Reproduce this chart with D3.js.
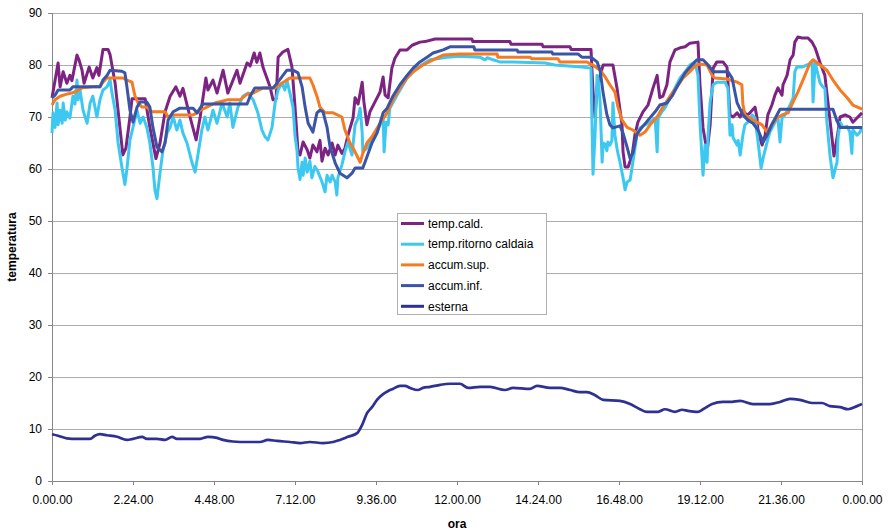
<!DOCTYPE html>
<html>
<head>
<meta charset="utf-8">
<script src="https://cdn.jsdelivr.net/npm/d3@7"></script>
<style>
  body { margin: 0; background: #fff; }
  svg { font-family: "Liberation Sans", Arial, sans-serif; }
</style>
</head>
<body>
<div id="chart-area"></div>
<script>
// [ora (hours), temperatura]
const tempCald = [
  [0,73.7],[0.09,77],[0.18,80.4],[0.24,75.8],[0.33,78.7],[0.44,76.5],[0.53,78],[0.59,77],[0.74,81.9],[0.80,81],
  [0.89,79],[0.95,76.5],[1.10,79.6],[1.21,77.5],[1.33,79.5],[1.39,78],[1.51,83],[1.66,83],[1.72,82],[1.87,76.5],
  [2.10,62.7],[2.19,64],[2.31,70],[2.37,73.5],[2.76,73.5],[2.90,68],[3.08,62],[3.20,65],[3.35,71],[3.50,74],
  [3.67,75.8],[3.79,74],[3.88,75.5],[4.09,70],[4.27,65.6],[4.39,70],[4.56,77.5],[4.62,75.2],[4.77,77.1],[4.89,74.6],
  [5.07,79],[5.21,74.6],[5.48,79],[5.57,76.5],[5.78,80.4],[5.87,79.8],[5.99,82.3],[6.07,80.5],[6.16,82.3],[6.25,79.6],
  [6.46,75.8],[6.55,73.3],[6.64,73.5],[6.70,81.5],[6.84,82.5],[6.99,83],[7.11,79.6],[7.20,72],[7.29,63.3],[7.35,62.7],
  [7.44,65.2],[7.56,63.7],[7.64,62.1],[7.73,64.6],[7.85,63.3],[7.94,65.5],[8.00,61.5],[8.09,64],[8.18,62.7],[8.30,65],
  [8.39,62.7],[8.47,64.6],[8.59,63],[8.68,64],[8.77,66.5],[8.92,69.8],[8.98,73.7],[9.07,72.5],[9.19,76.7],[9.24,73],
  [9.33,68.5],[9.42,71],[9.57,72.9],[9.72,74.8],[9.81,77.7],[9.87,74.2],[9.96,73.7],[10.07,79.4],[10.16,81.3],[10.31,82.9],
  [10.52,82.9],[10.67,83.8],[10.90,84.4],[11.05,84.5],[11.35,85],[12.44,85],[12.47,84.5],[13.57,84.5],[13.60,84],[14.52,84],
  [14.55,83.5],[15.35,83.5],[15.38,83],[15.97,83],[16.03,75],[16.09,70],[16.15,76],[16.33,80],[16.62,80],[16.74,75.6],
  [16.89,68.5],[16.92,63.3],[16.98,60.4],[17.07,60.4],[17.19,62.7],[17.27,66.5],[17.36,69],[17.51,71],[17.66,72.3],[17.81,75.6],
  [17.93,78],[17.96,76.2],[18.01,73.7],[18.10,74],[18.22,76.2],[18.31,80.6],[18.46,82.9],[18.61,83.3],[18.76,83.5],[18.90,84.2],
  [19.14,84.4],[19.20,76.2],[19.29,67.9],[19.41,63.3],[19.50,68.5],[19.59,79.4],[19.70,80.6],[19.88,80.6],[20.00,79.6],[20.09,70.4],
  [20.18,70],[20.30,70.8],[20.39,70],[20.47,71.3],[20.59,70.3],[20.68,70.8],[20.83,71.9],[20.89,69.8],[20.92,67.1],[21.04,64.6],
  [21.13,66.5],[21.21,70.4],[21.33,72.3],[21.42,74.2],[21.51,75.6],[21.63,74.2],[21.66,76.2],[21.78,78],[21.87,81],[21.96,81.9],
  [22.01,84.4],[22.10,85.4],[22.22,85.2],[22.40,85.2],[22.52,84.4],[22.61,83.3],[22.76,80.4],[22.90,78],[22.99,72.9],[23.11,66],
  [23.17,62.5],[23.29,67.1],[23.35,70],[23.50,70.4],[23.64,70],[23.73,69],[23.85,69.8],[24,70.8]
]

const tempRitorno = [
  [0,66.9],[0.03,70.8],[0.09,68],[0.15,72.7],[0.18,68.5],[0.24,71.3],[0.30,68.8],[0.33,72.7],[0.39,69.4],[0.44,71],
  [0.53,69.8],[0.62,74],[0.68,72.5],[0.74,77.1],[0.77,73.3],[0.83,75.2],[0.92,71.3],[1.04,68.8],[1.13,72.7],[1.21,74],
  [1.33,70],[1.42,73.3],[1.51,75.2],[1.63,75.8],[1.72,77.1],[1.78,74.5],[1.87,71.3],[1.96,65],[2.07,60.4],[2.16,57],
  [2.22,60],[2.31,65.6],[2.40,68],[2.52,71.3],[2.61,68.8],[2.70,70],[2.81,68],[2.90,65],[2.99,60.4],[3.05,56],
  [3.11,54.3],[3.20,59.2],[3.29,63.7],[3.41,66.9],[3.50,68],[3.59,70],[3.70,67.5],[3.79,69.4],[3.88,66.9],[4.00,65],
  [4.15,61.2],[4.24,59.4],[4.33,63],[4.44,67.5],[4.53,70],[4.62,67.5],[4.77,71.3],[4.89,68.8],[5.04,72.7],[5.19,70],
  [5.27,72.7],[5.36,68],[5.51,71.9],[5.66,74],[5.81,74.6],[5.96,73.3],[6.10,70.8],[6.22,67.5],[6.31,66.2],[6.40,65.6],
  [6.52,68],[6.61,72.7],[6.70,75.2],[6.81,76.5],[6.90,75.2],[6.96,77.1],[7.05,74.6],[7.14,71.9],[7.20,66.5],[7.26,63.5],
  [7.29,60.2],[7.35,58],[7.41,61.3],[7.44,58.8],[7.50,62.1],[7.56,59.4],[7.64,61.5],[7.70,58.3],[7.79,60.5],[7.88,59.5],
  [8.00,57.5],[8.09,55.6],[8.15,58.8],[8.24,57.5],[8.30,58.8],[8.39,57.5],[8.44,55],[8.47,58.3],[8.59,60.8],[8.68,63.3],
  [8.77,65.2],[8.89,62.7],[8.98,68.5],[9.07,69.8],[9.13,71.7],[9.19,67.1],[9.21,63.3],[9.33,64],[9.48,66],[9.63,67.1],
  [9.72,68.5],[9.81,70.4],[9.84,63.3],[9.90,69],[9.96,68.5],[10.01,71.7],[10.22,74.2],[10.52,77.5],[10.81,79.4],[11.20,81],
  [11.70,81.5],[12.09,81.7],[12.68,81.5],[12.83,81],[12.90,81.4],[13.07,81],[13.27,80.6],[13.66,80.6],[14.61,80.4],[14.90,80],
  [15.70,79.6],[15.97,79.4],[16.00,69],[16.03,59],[16.09,66.5],[16.15,78],[16.18,77.5],[16.24,72.9],[16.30,61.3],[16.33,65],
  [16.39,64.8],[16.44,63.5],[16.47,65.2],[16.53,64.6],[16.59,65.5],[16.62,72.7],[16.68,66.5],[16.74,64],[16.77,63],[16.83,61.3],
  [16.92,58.3],[16.98,56],[17.04,57.5],[17.13,57.9],[17.21,61.3],[17.33,66.5],[17.42,67.9],[17.57,68.5],[17.72,69],[17.87,69.8],
  [17.93,63.3],[17.96,69.8],[18.07,71],[18.16,71.7],[18.31,73.7],[18.46,75.6],[18.61,77.5],[18.76,78.7],[18.90,80],[19.05,80.6],
  [19.14,78],[19.20,69],[19.26,62.1],[19.29,58.8],[19.35,64.6],[19.41,61.3],[19.44,66.5],[19.50,72.9],[19.59,76.2],[19.70,76.7],
  [19.94,76.7],[20.03,75.5],[20.09,66.5],[20.15,68.5],[20.18,66],[20.30,64.6],[20.33,65.5],[20.39,62.7],[20.47,66.5],[20.53,68.5],
  [20.62,69],[20.74,70.4],[20.83,69.8],[20.92,65.2],[21.01,60.2],[21.07,62.1],[21.19,65.2],[21.27,67.1],[21.42,69],[21.51,69.8],
  [21.57,65.2],[21.63,69.8],[21.72,70.4],[21.87,72.3],[21.96,73.7],[22.01,78.7],[22.07,79.6],[22.22,79.6],[22.37,80],[22.52,80.4],
  [22.55,72.9],[22.61,80.4],[22.76,76.5],[22.84,75.8],[22.90,75.5],[22.96,69],[23.05,62.7],[23.14,58.3],[23.26,61.3],[23.29,66],
  [23.35,69],[23.44,68],[23.56,68.2],[23.64,67.1],[23.70,63],[23.73,67.5],[23.85,66.5],[23.94,67.1],[24,68]
]

const accumSup = [
  [0,72.3],[0.09,73.3],[0.24,74],[0.44,74.4],[0.59,74.6],[0.74,75],[0.89,75.6],[1.21,75.8],[1.42,75.8],[1.51,76.7],
  [1.63,77.5],[2.10,77.5],[2.22,77.1],[2.37,76.7],[2.46,74],[2.55,72.7],[2.67,71.9],[2.81,71.9],[2.96,71],[3.35,71],
  [3.44,70],[3.56,70.4],[4.18,70.4],[4.30,70.8],[4.39,71.3],[4.59,71.9],[4.83,72.7],[5.19,73.3],[5.57,73.3],[5.78,74.4],
  [5.96,74.6],[6.25,75.6],[6.61,75.6],[6.81,76.5],[6.96,77.1],[7.05,77.5],[7.64,77.5],[7.73,76.2],[7.85,74],[7.94,71.9],
  [8.09,70.8],[8.33,70.8],[8.59,70],[8.68,67.5],[8.83,65],[8.98,63.3],[9.13,61.3],[9.21,63],[9.33,65],[9.48,66.2],
  [9.72,68.8],[9.93,70.8],[10.10,73.3],[10.31,75.6],[10.52,77.5],[10.70,78.7],[10.99,80],[11.29,81],[11.59,81.9],[12.09,82.1],
  [13.19,82.1],[13.21,81.5],[14.16,81.5],[14.22,81.2],[14.99,81.2],[15.05,80.6],[15.85,80.6],[15.94,80.2],[16.03,80],[16.24,79],
  [16.39,77.7],[16.53,76.2],[16.68,74.8],[16.77,71.9],[16.89,69.4],[17.04,68],[17.21,67.5],[17.42,66.5],[17.57,67.1],[17.72,68.5],
  [17.93,70],[18.10,71.9],[18.31,74],[18.52,75.8],[18.70,77.5],[18.90,78.7],[19.05,79.8],[19.20,80.2],[19.41,80],[19.56,78],
  [19.64,77.5],[20.00,77.3],[20.30,76.7],[20.44,76.2],[20.47,72.5],[20.53,70.4],[20.68,69.8],[20.89,69],[21.04,68.5],[21.19,67.1],
  [21.33,68.5],[21.48,69.8],[21.63,70.4],[21.81,70.8],[21.96,72.9],[22.10,74.8],[22.31,78],[22.46,80.4],[22.55,81],[22.76,80],
  [22.96,79],[23.14,77.1],[23.35,75.2],[23.56,73.7],[23.73,72.3],[24,71.5]
]

const accumInf = [
  [0,73.7],[0.09,74.2],[0.18,75.2],[0.53,75.2],[0.62,75.8],[1.42,75.8],[1.51,77.1],[1.63,78],[1.72,79],[2.07,78.8],
  [2.16,78.5],[2.22,75.8],[2.31,71.3],[2.40,69],[2.52,71.9],[2.61,72.9],[2.81,72.9],[2.90,71.9],[2.99,68],[3.11,64.2],
  [3.26,63.3],[3.35,65],[3.44,69.4],[3.59,71],[3.79,71.7],[4.18,71.7],[4.30,70.8],[4.39,71.7],[4.47,72.5],[5.78,72.5],
  [5.87,74],[6.01,75.6],[6.55,75.6],[6.67,76.5],[6.81,77.7],[6.96,79],[7.14,79],[7.29,78.5],[7.41,75.8],[7.50,71.9],
  [7.59,68.8],[7.73,67.1],[7.85,70.8],[7.94,71.3],[8.03,71],[8.15,68],[8.24,64.2],[8.39,61.2],[8.53,59.2],[8.74,58.3],
  [8.89,59.2],[8.98,60.2],[9.21,60.2],[9.33,62.3],[9.48,65],[9.63,66.9],[9.81,70.8],[9.93,71.7],[10.10,74],[10.31,76.2],
  [10.52,78],[10.70,79.4],[10.90,80.6],[11.11,81.5],[11.29,82.3],[11.59,82.9],[11.79,83.5],[12.50,83.5],[12.53,82.9],[13.78,82.9],
  [13.81,82.5],[14.81,82.5],[14.84,82.1],[15.59,82.1],[15.70,81.5],[15.97,81.5],[16.15,80.6],[16.24,79],[16.33,74.6],[16.44,70.5],
  [16.53,68.5],[16.62,67.9],[16.83,68.3],[16.92,66.9],[17.04,64.2],[17.13,62],[17.21,63],[17.33,66.7],[17.48,68],[17.66,69.4],
  [17.87,71],[18.01,72.3],[18.22,72.7],[18.37,74],[18.55,76.2],[18.76,78.5],[18.96,80],[19.11,81],[19.29,81],[19.44,80],
  [19.59,78.7],[20.03,78.7],[20.15,77.5],[20.30,72.7],[20.47,70.4],[20.62,69.4],[20.77,68.8],[20.92,67.5],[21.07,65.2],[21.19,66.5],
  [21.33,68.6],[21.48,70.4],[21.57,71.5],[23.14,71.5],[23.26,69.2],[23.35,68],[24,68]
]

const esterna = [
  [0,9],[0.18,8.7],[0.44,8.2],[0.74,8.1],[1.13,8.1],[1.27,8.7],[1.42,9],[1.63,8.8],[1.93,8.5],[2.22,7.9],
  [2.40,8.1],[2.67,8.5],[2.81,8.1],[3.11,8.1],[3.35,7.9],[3.56,8.5],[3.70,8.1],[4.00,8.1],[4.39,8.1],[4.62,8.5],
  [4.89,8.3],[5.07,7.9],[5.36,7.6],[5.78,7.5],[6.16,7.5],[6.40,7.9],[6.67,7.7],[7.05,7.5],[7.35,7.3],[7.64,7.5],
  [8.03,7.3],[8.33,7.5],[8.53,7.9],[8.77,8.5],[9.04,9.2],[9.19,10.8],[9.33,13],[9.48,14.2],[9.63,15.6],[9.81,16.7],
  [9.96,17.3],[10.10,17.7],[10.31,18.3],[10.46,18.3],[10.61,17.9],[10.84,17.5],[10.99,17.9],[11.20,18.1],[11.50,18.5],[11.79,18.7],
  [12.09,18.7],[12.33,17.9],[12.68,18.1],[12.98,18.1],[13.42,17.5],[13.66,17.9],[14.16,17.7],[14.37,18.3],[14.76,17.9],[15.05,17.9],
  [15.35,17.5],[15.64,17.1],[15.85,17.1],[16.09,16.5],[16.33,15.6],[16.83,15.4],[17.13,14.8],[17.42,13.8],[17.63,13.3],[17.96,13.3],
  [18.16,13.8],[18.46,13.3],[18.67,13.7],[18.84,13.5],[19.14,13.3],[19.29,13.8],[19.56,14.8],[19.88,15.2],[20.09,15.2],[20.39,15.4],
  [20.77,14.8],[21.27,14.8],[21.57,15.2],[21.87,15.8],[22.16,15.6],[22.52,15],[22.81,15],[23.05,14.4],[23.35,14.2],[23.59,13.8],
  [23.85,14.4],[24,14.8]
]

const seriesNames = ['temp.cald.', 'temp.ritorno caldaia', 'accum.sup.', 'accum.inf.', 'esterna']
const seriesColors = ['#7D2483', '#3CC8F0', '#F47B22', '#3A55A5', '#2E3192']
const seriesData = [tempCald, tempRitorno, accumSup, accumInf, esterna]

const xTicks = [0, 2.4, 4.8, 7.2, 9.6, 12, 14.4, 16.8, 19.2, 21.6, 24]
const xTickLabels = ['0.00.00', '2.24.00', '4.48.00', '7.12.00', '9.36.00', '12.00.00', '14.24.00', '16.48.00', '19.12.00', '21.36.00', '0.00.00']
const yTicks = [0, 10, 20, 30, 40, 50, 60, 70, 80, 90]

const margin = {top: 13, right: 27, bottom: 51, left: 52}
const width = 889 - margin.left - margin.right
const height = 532 - margin.top - margin.bottom

const svg = d3.select('#chart-area').append('svg')
  .attr('width', width + margin.left + margin.right)
  .attr('height', height + margin.top + margin.bottom)

const g = svg.append('g')
  .attr('transform', `translate(${margin.left},${margin.top})`)

const x = d3.scaleLinear().domain([0, 24]).range([0, width])
const y = d3.scaleLinear().domain([0, 90]).range([height, 0])

// gridlines
g.append('g').selectAll('line')
  .data(yTicks.slice(1))
  .enter().append('line')
    .attr('x1', 0).attr('x2', width)
    .attr('y1', d => y(d)).attr('y2', d => y(d))
    .attr('stroke', '#ababab')
    .attr('stroke-width', 1)
    .attr('shape-rendering', 'crispEdges')

// right border of plot area
g.append('line')
  .attr('x1', width).attr('x2', width)
  .attr('y1', 0).attr('y2', height)
  .attr('stroke', '#9a9a9a')
  .attr('shape-rendering', 'crispEdges')

const xAxisCall = d3.axisBottom(x)
  .tickValues(xTicks)
  .tickSize(4)
  .tickPadding(10)
  .tickFormat((d, i) => xTickLabels[i])
g.append('g')
  .attr('class', 'x axis')
  .attr('transform', `translate(0,${height})`)
  .call(xAxisCall)

const yAxisCall = d3.axisLeft(y)
  .tickValues(yTicks)
  .tickSize(4)
  .tickPadding(6)
g.append('g')
  .attr('class', 'y axis')
  .call(yAxisCall)

svg.selectAll('.axis path, .axis line')
  .attr('stroke', '#868686')
  .attr('shape-rendering', 'crispEdges')
svg.selectAll('.axis text')
  .attr('fill', '#000')
  .style('font-size', '12px')
  .style('font-family', '"Liberation Sans", Arial, sans-serif')

// series
const line = d3.line()
  .x(d => x(d[0]))
  .y(d => y(d[1]))
const smooth = d3.line()
  .x(d => x(d[0]))
  .y(d => y(d[1]))
  .curve(d3.curveMonotoneX)

seriesData.forEach((data, i) => {
  g.append('path')
    .datum(data)
    .attr('fill', 'none')
    .attr('stroke', seriesColors[i])
    .attr('stroke-width', i === 4 ? 2.7 : 3)
    .attr('stroke-linejoin', 'round')
    .attr('d', i === 4 ? smooth : line)
})

// axis titles
svg.append('text')
  .attr('x', margin.left + width / 2)
  .attr('y', 528)
  .attr('text-anchor', 'middle')
  .style('font-size', '12px')
  .style('font-weight', 'bold')
  .text('ora')

svg.append('text')
  .attr('transform', `translate(16,${margin.top + height / 2}) rotate(-90)`)
  .attr('text-anchor', 'middle')
  .style('font-size', '12px')
  .style('font-weight', 'bold')
  .text('temperatura')

// legend
const legend = svg.append('g')
  .attr('transform', 'translate(397,213)')

legend.append('rect')
  .attr('width', 149)
  .attr('height', 101)
  .attr('fill', '#fff')
  .attr('stroke', '#b0b0b0')
  .attr('shape-rendering', 'crispEdges')

const items = legend.selectAll('.item')
  .data(seriesNames)
  .enter().append('g')
    .attr('class', 'item')
    .attr('transform', (d, i) => `translate(0,${10.5 + i * 20.7})`)

items.append('line')
  .attr('x1', 4).attr('x2', 27)
  .attr('stroke', (d, i) => seriesColors[i])
  .attr('stroke-width', 3)

items.append('text')
  .attr('x', 31)
  .attr('dy', '0.35em')
  .style('font-size', '12px')
  .text(d => d)
</script>
</body>
</html>
